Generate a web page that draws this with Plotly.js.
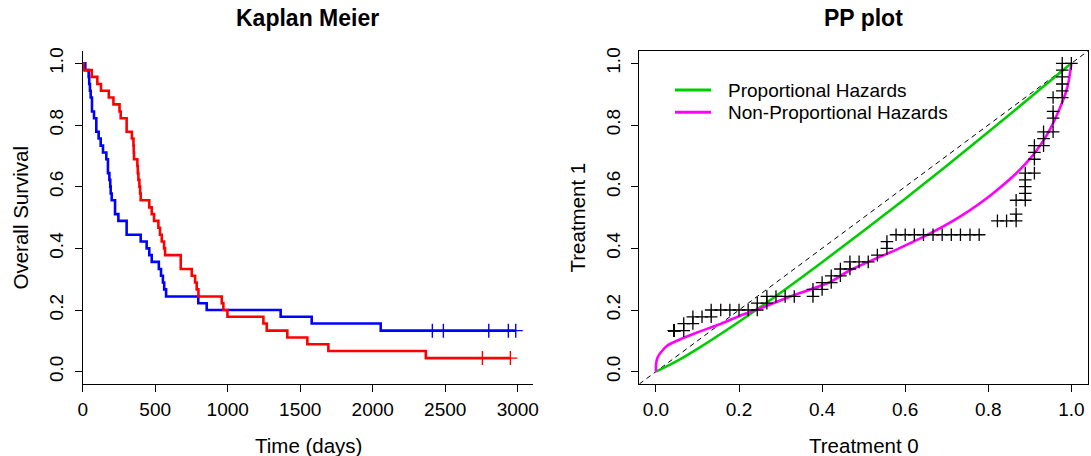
<!DOCTYPE html>
<html>
<head>
<meta charset="utf-8">
<script src="https://cdn.plot.ly/plotly-3.0.1.min.js"></script>
<style>
  html, body { margin: 0; padding: 0; background: #ffffff; }
  #chart { width: 1091px; height: 456px; }
</style>
</head>
<body>
<div id="chart"></div>
<script>
// Treatment 0 (red): event times in days and survival just after each event
const t0Times = [5, 62, 101, 126, 180, 212, 254, 262, 303, 339,
                 350, 352, 354, 377, 380, 384, 391, 396, 400, 459,
                 476, 492, 522, 533, 545, 561, 568, 676, 752, 775,
                 786, 798, 959, 970, 998, 1246, 1269, 1411, 1549, 1694,
                 2366];
const t0Surv = [0.978, 0.956, 0.933, 0.911, 0.889, 0.867, 0.844, 0.822, 0.778, 0.756,
                0.733, 0.711, 0.689, 0.667, 0.644, 0.622, 0.600, 0.578, 0.556, 0.533,
                0.511, 0.489, 0.467, 0.444, 0.422, 0.400, 0.378, 0.333, 0.311, 0.289,
                0.267, 0.244, 0.222, 0.200, 0.178, 0.156, 0.133, 0.111, 0.089, 0.067,
                0.044];
const t0Censored = [2756, 2949];

// Treatment 1 (blue)
const t1Times = [18, 41, 45, 50, 55, 64, 78, 94, 110, 124,
                 140, 163, 174, 184, 190, 193, 200, 223, 246, 303,
                 400, 441, 459, 476, 525, 540, 553, 562, 575, 797,
                 855, 1365, 1579, 2055];
const t1Surv = [0.978, 0.956, 0.933, 0.911, 0.889, 0.844, 0.822, 0.778, 0.756, 0.733,
                0.711, 0.689, 0.644, 0.622, 0.600, 0.578, 0.556, 0.511, 0.489, 0.444,
                0.422, 0.400, 0.378, 0.356, 0.333, 0.311, 0.289, 0.267, 0.244, 0.222,
                0.200, 0.178, 0.156, 0.133];
const t1Censored = [2411, 2487, 2800, 2935, 2986];

// Model curves for the PP plot
const phX = [0, 0.05, 0.1, 0.2, 0.3, 0.4, 0.5, 0.6, 0.7, 0.8, 0.9, 1.0];
const phY = [0, 0.034, 0.074, 0.162, 0.256, 0.355, 0.457, 0.561, 0.668, 0.777, 0.888, 1.0];
const nphX = [0, 0.0008, 0.004, 0.012, 0.027, 0.059, 0.099, 0.15, 0.2, 0.258, 0.33,
              0.418, 0.466, 0.579, 0.651, 0.731, 0.811, 0.891, 0.939, 0.971, 0.991, 1.0];
const nphY = [0, 0.028, 0.046, 0.063, 0.084, 0.105, 0.127, 0.152, 0.18, 0.209, 0.247,
              0.29, 0.328, 0.396, 0.442, 0.502, 0.578, 0.676, 0.763, 0.85, 0.926, 1.0];

// Identity reference line
const diagXY = [-0.04, 1.04];

const kmXTicks = [0, 500, 1000, 1500, 2000, 2500, 3000];
const probTicks = [0, 0.2, 0.4, 0.6, 0.8, 1.0];
const probTickText = ['0.0', '0.2', '0.4', '0.6', '0.8', '1.0'];

const legendNames = ['Proportional Hazards', 'Non-Proportional Hazards'];
const legendColors = ['#00CD00', '#FF00FF'];

const RED = '#FF0000', BLUE = '#0000FF';
const FONT = 'Liberation Sans, Arial, Helvetica, sans-serif';
const W = 1091, H = 456;

function survAt(times, surv, t) {
  let s = 1;
  for (let i = 0; i < times.length; i++) {
    if (times[i] <= t) s = surv[i]; else break;
  }
  return s;
}

function stepCurve(times, surv, censored) {
  const end = Math.max(times[times.length - 1], ...censored);
  return {
    x: [0, ...times, end],
    y: [1, ...surv, surv[surv.length - 1]]
  };
}

function crossMarker(color, size, width) {
  return { symbol: 'cross-thin-open', size: size, color: color, line: { color: color, width: width } };
}

const c0 = stepCurve(t0Times, t0Surv, t0Censored);
const c1 = stepCurve(t1Times, t1Surv, t1Censored);

// PP points: both survival curves evaluated at every observed time
const allTimes = Array.from(new Set([0, ...t0Times, ...t1Times, ...t0Censored, ...t1Censored]))
  .sort((a, b) => a - b);
const ppX = allTimes.map(t => survAt(t0Times, t0Surv, t));
const ppY = allTimes.map(t => survAt(t1Times, t1Surv, t));

const traces = [
  { x: c1.x, y: c1.y, type: 'scatter', mode: 'lines', line: { shape: 'hv', color: BLUE, width: 2.6 },
    xaxis: 'x', yaxis: 'y', hoverinfo: 'skip' },
  { x: c0.x, y: c0.y, type: 'scatter', mode: 'lines', line: { shape: 'hv', color: RED, width: 2.6 },
    xaxis: 'x', yaxis: 'y', hoverinfo: 'skip' },
  { x: t1Censored, y: t1Censored.map(t => survAt(t1Times, t1Surv, t)), type: 'scatter', mode: 'markers',
    marker: crossMarker(BLUE, 10, 1.4), xaxis: 'x', yaxis: 'y' },
  { x: t0Censored, y: t0Censored.map(t => survAt(t0Times, t0Surv, t)), type: 'scatter', mode: 'markers',
    marker: crossMarker(RED, 10, 1.4), xaxis: 'x', yaxis: 'y' },

  { x: diagXY, y: diagXY, type: 'scatter', mode: 'lines', line: { color: '#000', width: 1, dash: '5px,4px' },
    xaxis: 'x2', yaxis: 'y2', hoverinfo: 'skip' },
  { x: phX, y: phY, type: 'scatter', mode: 'lines', line: { color: legendColors[0], width: 2.6, shape: 'spline' },
    xaxis: 'x2', yaxis: 'y2', name: legendNames[0] },
  { x: nphX, y: nphY, type: 'scatter', mode: 'lines', line: { color: legendColors[1], width: 2.6, shape: 'spline', smoothing: 0.8 },
    xaxis: 'x2', yaxis: 'y2', name: legendNames[1] },
  { x: ppX, y: ppY, type: 'scatter', mode: 'markers',
    marker: crossMarker('#000', 9, 1.3), xaxis: 'x2', yaxis: 'y2' }
];

const yDom = [1 - 384 / H, 1 - 51 / H];
const axisBase = {
  showgrid: false, zeroline: false, showline: true, linecolor: '#000', linewidth: 1,
  ticks: 'outside', ticklen: 7, tickwidth: 1, tickcolor: '#000',
  tickfont: { family: FONT, size: 19, color: '#000' }
};

const px = v => v / W, py = v => 1 - v / H;

const annotations = [
  { text: '<b>Kaplan Meier</b>', x: px(307), y: py(18), font: { size: 23 } },
  { text: '<b>PP plot</b>', x: px(863.6), y: py(18), font: { size: 23 } },
  { text: 'Time (days)', x: px(308), y: py(445), font: { size: 20.5 } },
  { text: 'Treatment 0', x: px(863.6), y: py(445), font: { size: 20.5 } },
  { text: 'Overall Survival', x: px(20), y: py(217.5), textangle: -90, font: { size: 20.5 } },
  { text: 'Treatment 1', x: px(577), y: py(217.5), textangle: -90, font: { size: 20.5 } },
  { text: legendNames[0], x: px(726), y: py(90.5), xanchor: 'left', font: { size: 19 } },
  { text: legendNames[1], x: px(726), y: py(112.7), xanchor: 'left', font: { size: 19 } }
].map(a => Object.assign({ xref: 'paper', yref: 'paper', showarrow: false, xanchor: 'center', yanchor: 'middle' },
  a, { font: Object.assign({ family: FONT, color: '#000' }, a.font) }));

const shapes = [
  { type: 'line', xref: 'paper', yref: 'paper', x0: px(675), x1: px(711), y0: py(90), y1: py(90),
    line: { color: legendColors[0], width: 3 } },
  { type: 'line', xref: 'paper', yref: 'paper', x0: px(675), x1: px(711), y0: py(112.3), y1: py(112.3),
    line: { color: legendColors[1], width: 3 } }
];

const layout = {
  width: W, height: H,
  margin: { l: 0, r: 0, t: 0, b: 0, pad: 0 },
  paper_bgcolor: '#fff', plot_bgcolor: '#fff',
  showlegend: false,
  font: { family: FONT, color: '#000' },
  xaxis: Object.assign({}, axisBase, {
    domain: [82.7 / W, 533 / W], range: [0, 3105], tickvals: kmXTicks, ticktext: kmXTicks.map(String),
    anchor: 'y', ticklabelstandoff: 1
  }),
  yaxis: Object.assign({}, axisBase, {
    domain: yDom, range: [-0.04, 1.04], tickvals: probTicks, ticktext: probTickText,
    tickangle: -90, anchor: 'x', ticklabelstandoff: 4
  }),
  xaxis2: Object.assign({}, axisBase, {
    domain: [639.3 / W, 1088 / W], range: [-0.04, 1.04], tickvals: probTicks, ticktext: probTickText,
    anchor: 'y2', mirror: true, ticklabelstandoff: 1
  }),
  yaxis2: Object.assign({}, axisBase, {
    domain: yDom, range: [-0.04, 1.04], tickvals: probTicks, ticktext: probTickText,
    tickangle: -90, anchor: 'x2', mirror: true, ticklabelstandoff: 4
  }),
  annotations: annotations,
  shapes: shapes
};

Plotly.newPlot('chart', traces, layout, { staticPlot: true, displayModeBar: false });
</script>
</body>
</html>
